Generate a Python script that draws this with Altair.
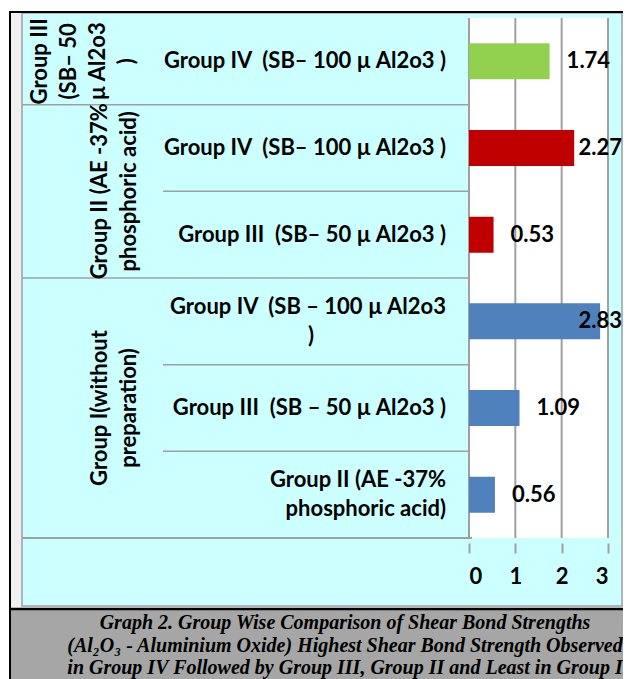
import altair as alt
import pandas as pd

# ---------------- data ----------------
groups = ["Group III", "Group II", "Group I"]
group_labels = ["Group III\n(SB\u2013 50\n\u00b5 Al2o3\n)",
                "Group II (AE -37%\nphosphoric acid)",
                "Group I(without\npreparation)"]
group_counts = [1, 2, 3]
group_colors = ["#92D050", "#C00000", "#4F81BD"]

row_groups = ["Group III", "Group II", "Group II", "Group I", "Group I", "Group I"]
sub_labels = [
    "Group IV \u00a0(SB\u2013 100 \u00b5 Al2o3 )",
    "Group IV \u00a0(SB\u2013 100 \u00b5 Al2o3 )",
    "Group III \u00a0(SB\u2013 50 \u00b5 Al2o3 )",
    "Group IV \u00a0(SB \u2013 100 \u00b5 Al2o3\n)" + "\u2003" * 8 + "\u200b",
    "Group III \u00a0(SB \u2013 50 \u00b5 Al2o3 )",
    "Group II (AE -37%\nphosphoric acid)",
]
values = [1.74, 2.27, 0.53, 2.83, 1.09, 0.56]
x_ticks = [0, 1, 2, 3]
caption_lines = [
    "Graph 2. Group Wise Comparison of Shear Bond Strengths",
    "(Al\u2082O\u2083 - Aluminium Oxide) Highest Shear Bond Strength Observed",
    "in Group IV Followed by Group III, Group II and Least in Group I",
]

# ---------------- tables ----------------
rows = pd.DataFrame({
    "group": row_groups,
    "sub": sub_labels,
    "value": values,
})
rows["center"] = [i + 0.5 for i in range(len(rows))]
rows["nlines"] = [t.count("\n") + 1 for t in sub_labels]

starts, s = [], 0
for c in group_counts:
    starts.append(s)
    s += c
gdf = pd.DataFrame({
    "group": groups,
    "label": group_labels,
    "mid": [st + c / 2 for st, c in zip(starts, group_counts)],
    "nlines": [t.count("\n") + 1 for t in group_labels],
})
group_bounds = [st + c for st, c in zip(starts, group_counts)][:-1]
sub_bounds = [b for b in range(1, len(rows)) if b not in group_bounds]
bottom_bound = [len(rows)]

# ---------------- style ----------------
W, H = 139, 530
FONT = "Lato"
GRID = "#A0A0A0"
CYAN = "#CCFFFF"
LH = 29

XS = alt.Scale(domain=[0, 3], nice=False, zero=True)
YS = alt.Scale(domain=[0, len(rows)], reverse=True, nice=False, zero=False)
XAX = alt.Axis(values=x_ticks, grid=False, domain=False, ticks=True, tickSize=10,
               tickWidth=2, tickColor=GRID, labelFont=FONT, labelFontWeight="bold",
               labelFontSize=22, labelColor="black", labelPadding=13, labelAngle=0,
               format="d", zindex=1, title=None)

def X(f):
    return alt.X(f, type="quantitative", scale=XS, axis=XAX, title=None)

def Y(f):
    return alt.Y(f, type="quantitative", scale=YS, axis=None, title=None)

one = pd.DataFrame({"d": [0]})

# ---------------- decorations ----------------
strip = alt.Chart(one).mark_rect(color="#F0F0F0").encode(
    x=alt.value(-458), x2=alt.value(154), y=alt.value(0), y2=alt.value(596))
cyan_box = alt.Chart(one).mark_rect(fill=CYAN, stroke=GRID, strokeWidth=1.5).encode(
    x=alt.value(-447), x2=alt.value(153), y=alt.value(0), y2=alt.value(593))
cap_box = alt.Chart(one).mark_rect(color="#A6A6A6").encode(
    x=alt.value(-458), x2=alt.value(154), y=alt.value(597), y2=alt.value(670))
black_cap = alt.Chart(one).mark_rule(color="black", strokeWidth=2.5).encode(
    x=alt.value(-459), x2=alt.value(154), y=alt.value(596))
black_left = alt.Chart(one).mark_rule(color="black", strokeWidth=2).encode(
    x=alt.value(-459), y=alt.value(-1), y2=alt.value(670))
black_top = alt.Chart(one).mark_rule(color="black", strokeWidth=2).encode(
    x=alt.value(-460), x2=alt.value(154), y=alt.value(-1))

white_plot = alt.Chart(one).mark_rect(color="white").encode(
    x=alt.XDatum(0, scale=XS, axis=XAX, type="quantitative"),
    x2=alt.X2Datum(3),
    y=alt.YDatum(0, scale=YS, axis=None, type="quantitative"),
    y2=alt.Y2Datum(len(rows)),
)

grid = alt.Chart(pd.DataFrame({"t": x_ticks})).mark_rule(color=GRID, strokeWidth=2).encode(
    x=X("t"),
    y=alt.YDatum(0, scale=YS, axis=None, type="quantitative"),
    y2=alt.Y2Datum(len(rows)),
)

g_lines = alt.Chart(pd.DataFrame({"b": group_bounds})).mark_rule(color=GRID, strokeWidth=1.5).encode(
    y=Y("b"), x=alt.value(-447), x2=alt.value(0))
s_lines = alt.Chart(pd.DataFrame({"b": sub_bounds})).mark_rule(color=GRID, strokeWidth=1.5).encode(
    y=Y("b"), x=alt.value(-306), x2=alt.value(0))
b_line = alt.Chart(pd.DataFrame({"b": bottom_bound})).mark_rule(color=GRID, strokeWidth=2).encode(
    y=Y("b"), x=alt.value(-447), x2=alt.X2Datum(3))

# ---------------- data marks ----------------
bars = alt.Chart(rows).mark_bar(orient="horizontal", size=36).encode(
    x=X("value"),
    x2=alt.X2Datum(0),
    y=Y("center"),
    color=alt.Color("group:N", scale=alt.Scale(domain=groups, range=group_colors), legend=None),
)

lbl_out = alt.Chart(rows).transform_filter("datum.value < 2").mark_text(
    align="left", baseline="middle", dx=17, font=FONT, fontWeight="bold", fontSize=22,
    color="black").encode(
    x=X("value"), y=Y("center"), text=alt.Text("value:Q", format=".2f"))

lbl_in = alt.Chart(rows).transform_filter("datum.value >= 2").mark_text(
    align="right", baseline="middle", dx=14, font=FONT, fontWeight="bold", fontSize=22,
    color="black").encode(
    x=alt.XDatum(3, scale=XS, axis=XAX, type="quantitative"), y=Y("center"),
    text=alt.Text("value:Q", format=".2f"))

sub_style = dict(align="right", baseline="middle", lineBreak="\n", lineHeight=LH,
                 font=FONT, fontWeight="bold", fontSize=22, color="black")
sub_one = alt.Chart(rows).transform_filter("datum.nlines == 1").mark_text(**sub_style).encode(
    x=alt.value(-23), y=Y("center"), text="sub:N")
sub_two = alt.Chart(rows).transform_filter("datum.nlines == 2").mark_text(
    dy=-LH / 2, **sub_style).encode(
    x=alt.value(-23), y=Y("center"), text="sub:N")

grp_style = dict(angle=270, align="center", baseline="middle", lineBreak="\n",
                 lineHeight=LH, font=FONT, fontWeight="bold", fontSize=22, color="black")
grp_two = alt.Chart(gdf).transform_filter("datum.nlines == 2").mark_text(**grp_style).encode(
    x=alt.value(-369), y=Y("mid"), text="label:N")
grp_four = alt.Chart(gdf).transform_filter("datum.nlines == 4").mark_text(**grp_style).encode(
    x=alt.value(-429), y=Y("mid"), text="label:N")

cap_text = alt.Chart(pd.DataFrame({"t": ["\n".join(caption_lines)]})).mark_text(
    align="center", baseline="middle", lineBreak="\n", lineHeight=22.5,
    font="Liberation Serif", fontStyle="italic", fontWeight="bold", fontSize=20,
    color="black").encode(
    x=alt.value(-124), y=alt.value(610), text="t:N")

chart = alt.layer(
    strip, cyan_box, cap_box, black_cap, black_left, black_top,
    white_plot, grid, g_lines, s_lines, b_line,
    bars, lbl_out, lbl_in, sub_one, sub_two, grp_two, grp_four, cap_text,
).properties(
    width=W, height=H,
    padding={"left": 461, "top": 5, "right": 15, "bottom": 136},
    autosize=alt.AutoSizeParams(type="none"),
).configure_view(stroke=None).configure(background="white")

chart.save("out.html", embed_options={"renderer": "svg", "actions": False})
